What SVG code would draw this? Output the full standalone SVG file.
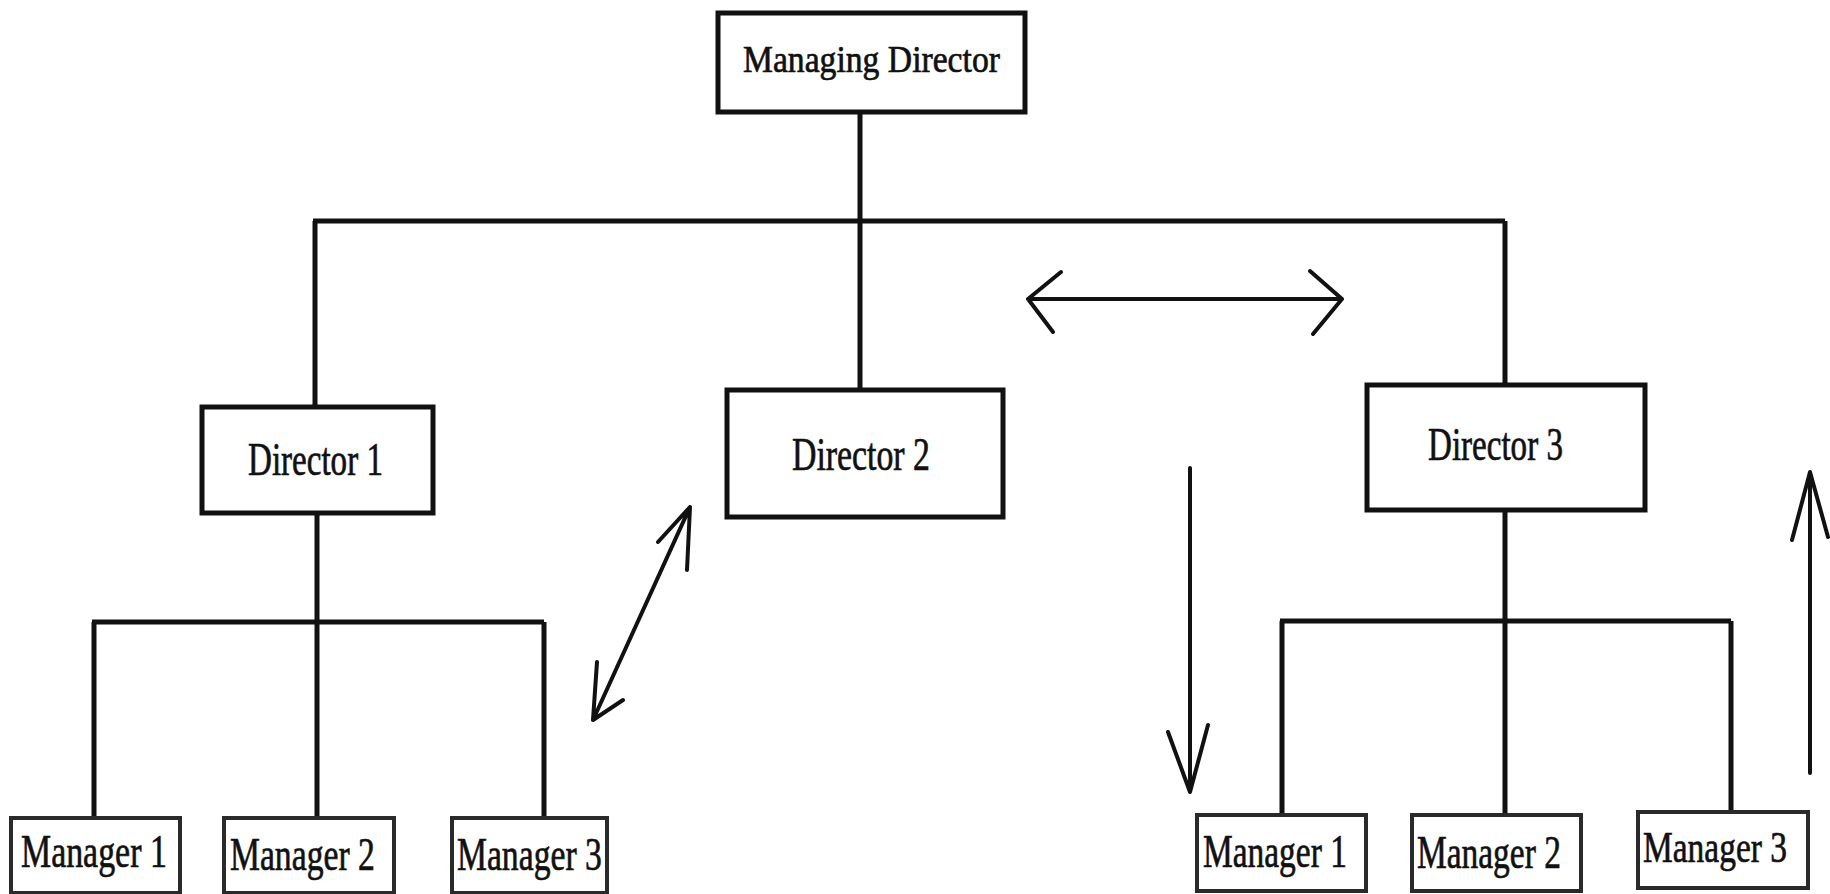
<svg xmlns="http://www.w3.org/2000/svg" width="1830" height="894" viewBox="0 0 1830 894">
  <style>
    .box { fill: #ffffff; stroke: #111111; stroke-width: 5; }
    .mgr { fill: #ffffff; stroke: #2a2a2a; stroke-width: 4; }
    .lbl { font-family: "Liberation Serif", "Times New Roman", serif; fill: #111111; stroke: #111111; stroke-width: 0.7; }
    .line { fill: none; stroke: #111111; stroke-width: 5; stroke-linecap: butt; }
    .arrow { fill: none; stroke: #111111; stroke-width: 4; stroke-linecap: round; stroke-linejoin: round; }
  </style>
  <rect width="1830" height="894" fill="#ffffff"/>

  <!-- hierarchy connectors -->
  <g id="connectors">
    <path class="line" d="M860 112 V221 M313 221 H1505 M315 221 V407 M860 221 V390 M1505 221 V385"/>
    <path class="line" d="M317 513 V622 M92 622 H544 M94 622 V818 M317 622 V818 M544 622 V818"/>
    <path class="line" d="M1505 510 V621 M1280 621 H1731 M1282 621 V815 M1505 621 V815 M1731 621 V812"/>
  </g>

  <!-- communication arrows -->
  <g id="arrows">
    <path class="arrow" d="M1028 299 H1342 M1061 272 L1028 299 L1053 332 M1310 271 L1342 299 L1313 334"/>
    <path class="arrow" d="M690 507 L593 720 M658 542 L690 507 L687 570 M597 662 L593 720 L623 700"/>
    <path class="arrow" d="M1190 468 V792 M1168 732 L1190 792 L1208 725"/>
    <path class="arrow" d="M1810 773 V472 M1792 540 L1810 472 L1828 537"/>
  </g>

  <!-- labels are set in a narrowed serif via a horizontal scale -->
  <g id="managing-director">
    <rect class="box" x="718" y="13" width="307" height="99"/>
    <text class="lbl" transform="translate(743 72) scale(0.886 1)" font-size="38">Managing Director</text>
  </g>

  <g id="director-1">
    <rect class="box" x="202" y="407" width="231" height="106"/>
    <text class="lbl" transform="translate(248 475) scale(0.719 1)" font-size="46">Director 1</text>
  </g>

  <g id="director-2">
    <rect class="box" x="727" y="390" width="276" height="127"/>
    <text class="lbl" transform="translate(792 470) scale(0.735 1)" font-size="46">Director 2</text>
  </g>

  <g id="director-3">
    <rect class="box" x="1367" y="385" width="278" height="125"/>
    <text class="lbl" transform="translate(1428 460) scale(0.719 1)" font-size="46">Director 3</text>
  </g>

  <g id="d1-manager-1">
    <rect class="mgr" x="11" y="818" width="169" height="75"/>
    <text class="lbl" transform="translate(21 867) scale(0.737 1)" font-size="46">Manager 1</text>
  </g>
  <g id="d1-manager-2">
    <rect class="mgr" x="224" y="818" width="170" height="75"/>
    <text class="lbl" transform="translate(230 870) scale(0.732 1)" font-size="46">Manager 2</text>
  </g>
  <g id="d1-manager-3">
    <rect class="mgr" x="452" y="818" width="155" height="75"/>
    <text class="lbl" transform="translate(457 870) scale(0.732 1)" font-size="46">Manager 3</text>
  </g>

  <g id="d3-manager-1">
    <rect class="mgr" x="1197" y="815" width="169" height="76"/>
    <text class="lbl" transform="translate(1203 867) scale(0.727 1)" font-size="46">Manager 1</text>
  </g>
  <g id="d3-manager-2">
    <rect class="mgr" x="1412" y="815" width="169" height="76"/>
    <text class="lbl" transform="translate(1417 868) scale(0.727 1)" font-size="46">Manager 2</text>
  </g>
  <g id="d3-manager-3">
    <rect class="mgr" x="1638" y="812" width="170" height="76"/>
    <text class="lbl" transform="translate(1643 862) scale(0.744 1)" font-size="45">Manager 3</text>
  </g>
</svg>
